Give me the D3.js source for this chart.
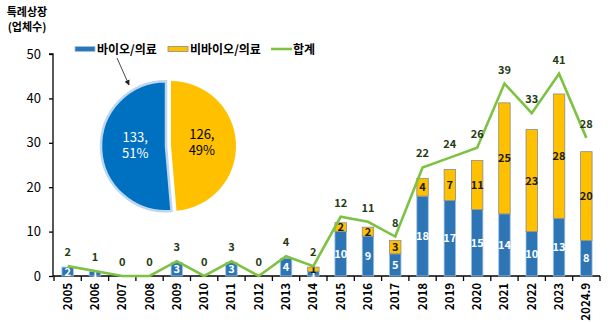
<!DOCTYPE html>
<html>
<head>
<meta charset="utf-8">
<script src="https://cdn.jsdelivr.net/npm/d3@7"></script>
<style>
  body { margin: 0; background: #fff; }
  text { font-family: "Noto Sans CJK KR", "Noto Sans", sans-serif; }
</style>
</head>
<body>
<div id="main"></div>
<script>
// categories //
const years = ['2005','2006','2007','2008','2009','2010','2011','2012','2013','2014',
               '2015','2016','2017','2018','2019','2020','2021','2022','2023','2024.9'];

// series values //
const bio    = [2, 1, 0, 0, 3, 0, 3, 0, 4, 1, 10, 9, 5, 18, 17, 15, 14, 10, 13, 8];
const nonBio = [0, 0, 0, 0, 0, 0, 0, 0, 0, 1, 2, 2, 3, 4, 7, 11, 25, 23, 28, 20];
const total  = [2, 1, 0, 0, 3, 0, 3, 0, 4, 2, 12, 11, 8, 22, 24, 26, 39, 33, 41, 28];

// pie (sum over all years) //
const pieNames  = ['바이오/의료', '비바이오/의료'];
const pieValues = [133, 126];
const piePct    = ['51%', '49%'];

const yTicks = [0, 10, 20, 30, 40, 50];

const w = 615, h = 322;
const blue = '#2E75B6', yellow = '#FFC000', green = '#7DC242';

const svg = d3.select('#main').append('svg')
    .attr('width', w)
    .attr('height', h);

// scales //
const x = d3.scaleBand().domain(years).range([54, 600]).paddingInner(0.58).paddingOuter(0.29);
const y = d3.scaleLinear().domain([0, 50]).range([276, 54]);
const y2 = d3.scaleLinear().domain([0, 45]).range([276, 54]);   // hidden secondary axis for the line
const xBand = d3.scaleBand().domain(years).range([54, 600]);   // for category ticks

// y axis //
const yAxis = d3.axisLeft(y).tickValues(yTicks).tickSize(4).tickPadding(8);
const gy = svg.append('g').attr('transform', 'translate(53,0)').call(yAxis);
gy.select('.domain').attr('stroke', '#000').attr('stroke-width', 1.3).attr('d', `M-4,${y(50)}H0V${y(0)}`);
gy.selectAll('.tick line').attr('stroke', '#000').attr('stroke-width', 1.3);
gy.selectAll('.tick text').attr('font-size', 13).attr('fill', '#000')
    .style('font-family', '"Noto Sans CJK KR", sans-serif');

// x axis //
const gx = svg.append('g').attr('transform', `translate(0,${y(0)})`);
gx.append('line').attr('x1', 53).attr('x2', 600).attr('stroke', '#000').attr('stroke-width', 1.6);
gx.selectAll('.tk')
    .data(years.concat(['end']))
    .enter()
    .append('line')
    .attr('x1', (d, i) => i < years.length ? xBand(d) : 600)
    .attr('x2', (d, i) => i < years.length ? xBand(d) : 600)
    .attr('y1', 0).attr('y2', 5)
    .attr('stroke', '#000').attr('stroke-width', 1.3);
gx.selectAll('.lbl')
    .data(years)
    .enter()
    .append('text')
    .attr('transform', d => `translate(${xBand(d) + xBand.bandwidth() / 2 + 4},7) rotate(-90)`)
    .attr('text-anchor', 'end')
    .attr('font-size', 11.5)
    .attr('font-weight', 'bold')
    .text(d => d);

// stacked bars //
const stackData = years.map((yr, i) => ({ yr, bio: bio[i], nonBio: nonBio[i] }));
const series = d3.stack().keys(['bio', 'nonBio'])(stackData);
const fills = { bio: blue, nonBio: yellow };
const strokes = { bio: '#9DC3E6', nonBio: '#8C8C8C' };

series.forEach(s => {
    const g = svg.append('g');
    g.selectAll('rect')
        .data(s.filter(d => d[1] > d[0]))
        .enter()
        .append('rect')
        .attr('x', d => x(d.data.yr))
        .attr('width', x.bandwidth())
        .attr('y', d => y(d[1]))
        .attr('height', d => y(d[0]) - y(d[1]))
        .attr('fill', fills[s.key])
        .attr('stroke', strokes[s.key])
        .attr('stroke-width', 0.8);
    g.selectAll('text')
        .data(s.filter(d => d[1] > d[0]))
        .enter()
        .append('text')
        .attr('x', d => x(d.data.yr) + x.bandwidth() / 2)
        .attr('y', d => (y(d[0]) + y(d[1])) / 2 + 4)
        .attr('text-anchor', 'middle')
        .attr('font-size', 11)
        .attr('font-weight', 'bold')
        .attr('fill', s.key === 'bio' ? '#fff' : '#1a1a1a')
        .text(d => d[1] - d[0]);
});

// total line //
const line = d3.line()
    .x((d, i) => xBand(years[i]) + xBand.bandwidth() / 2)
    .y(d => y2(d));
svg.append('path')
    .datum(total)
    .attr('d', line)
    .attr('fill', 'none')
    .attr('stroke', green)
    .attr('stroke-width', 2.6)
    .attr('stroke-linejoin', 'miter');
svg.append('g').selectAll('text')
    .data(total)
    .enter()
    .append('text')
    .attr('x', (d, i) => xBand(years[i]) + xBand.bandwidth() / 2)
    .attr('y', d => y2(d) - 10)
    .attr('text-anchor', 'middle')
    .attr('font-size', 11)
    .attr('font-weight', 'bold')
    .attr('fill', '#263a14')
    .text(d => d);

// pie //
const pie = d3.pie().sort(null)
    .startAngle(Math.PI * 2 * pieValues[1] / d3.sum(pieValues) - Math.PI * 2)
    .endAngle(Math.PI * 2 * pieValues[1] / d3.sum(pieValues));
const arcs = pie(pieValues);
const r = 65;
const arc = d3.arc().innerRadius(0).outerRadius(r);
const labelArc = d3.arc().innerRadius(0).outerRadius(r * 0.95);
const pg = svg.append('g').attr('transform', 'translate(171,146)');
const pieFill = ['#0070C0', yellow];
arcs.forEach((a, i) => {
    const mid = (a.startAngle + a.endAngle) / 2;
    const off = i === 0 ? 5 : 0;      // blue slice pulled out a little
    const dx = Math.sin(mid) * off, dy = -Math.cos(mid) * off;
    const g = pg.append('g').attr('transform', `translate(${dx},${dy})`);
    g.append('path')
        .attr('d', arc(a))
        .attr('fill', pieFill[i])
        .attr('stroke', i === 0 ? '#BDD7EE' : 'none')
        .attr('stroke-width', i === 0 ? 2.5 : 0);
    const c = labelArc.centroid(a);
    const t = g.append('text')
        .attr('text-anchor', 'middle')
        .attr('font-size', 13)
        .attr('fill', i === 0 ? '#fff' : '#000');
    t.append('tspan').attr('x', c[0]).attr('y', c[1] - 6).text(pieValues[i] + ',');
    t.append('tspan').attr('x', c[0]).attr('y', c[1] + 10).text(piePct[i]);
});

// arrow from legend to pie //
svg.append('defs').append('marker')
    .attr('id', 'arr').attr('viewBox', '0 0 10 10')
    .attr('refX', 9).attr('refY', 5)
    .attr('markerWidth', 6).attr('markerHeight', 6)
    .attr('orient', 'auto')
    .append('path').attr('d', 'M0,0L10,5L0,10z').attr('fill', '#222');
svg.append('line')
    .attr('x1', 117).attr('y1', 58).attr('x2', 129).attr('y2', 85)
    .attr('stroke', '#333').attr('stroke-width', 0.9)
    .attr('marker-end', 'url(#arr)');

// legend //
const legend = svg.append('g').attr('transform', 'translate(0,49)');
const legItems = [
    { name: pieNames[0], x: 75, type: 'rect', fill: blue, stroke: '#9DC3E6' },
    { name: pieNames[1], x: 168, type: 'rect', fill: yellow, stroke: '#8C8C8C' },
    { name: '합계', x: 271, type: 'line', fill: green }
];
legItems.forEach(it => {
    if (it.type === 'rect') {
        legend.append('rect').attr('x', it.x).attr('y', -2.5).attr('width', 20).attr('height', 5)
            .attr('fill', it.fill).attr('stroke', it.stroke).attr('stroke-width', 0.8);
    } else {
        legend.append('line').attr('x1', it.x).attr('x2', it.x + 21)
            .attr('stroke', it.fill).attr('stroke-width', 2.6);
    }
    legend.append('text').attr('x', it.x + 22).attr('y', 4.5)
        .attr('font-size', 12).attr('font-weight', 'bold').text(it.name);
});

// y axis title //
const title = svg.append('text').attr('font-size', 11).attr('font-weight', 'bold').attr('text-anchor', 'middle');
title.append('tspan').attr('x', 27).attr('y', 16).text('특례상장');
title.append('tspan').attr('x', 27).attr('y', 31).text('(업체수)');
</script>
</body>
</html>
